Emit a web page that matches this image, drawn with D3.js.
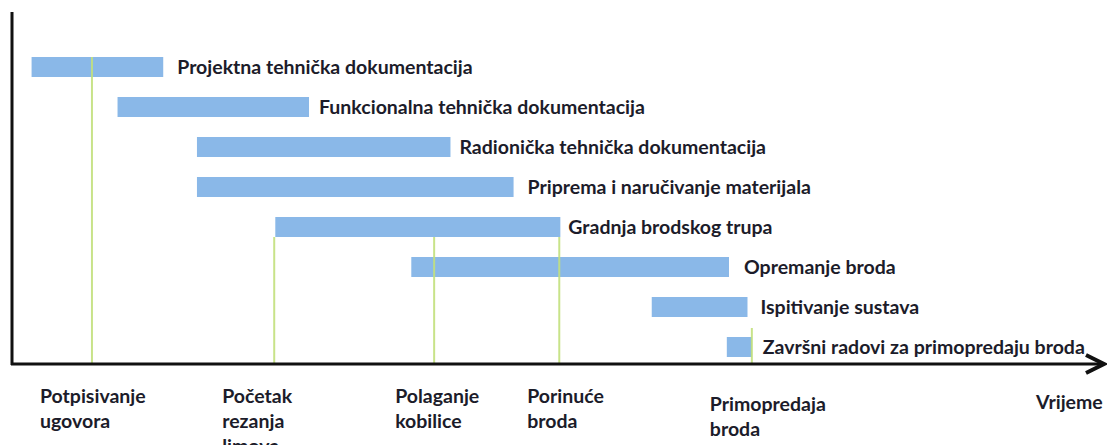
<!DOCTYPE html>
<html>
<head>
<meta charset="utf-8">
<script src="https://cdn.jsdelivr.net/npm/d3@7"></script>
<style>
  body { margin: 0; background: #fff; }
  svg text { font-family: Lato, "Open Sans", sans-serif; font-weight: bold; fill: #1c1c2a; }
</style>
</head>
<body>
<div id="chart"></div>
<script>
// activities (rows, top to bottom) with start / end in time units
const tasks = [
    'Projektna tehnička dokumentacija',
    'Funkcionalna tehnička dokumentacija',
    'Radionička tehnička dokumentacija',
    'Priprema i naručivanje materijala',
    'Gradnja brodskog trupa',
    'Opremanje broda',
    'Ispitivanje sustava',
    'Završni radovi za primopredaju broda'
];
const taskStart = [1.8, 9.7, 17.0, 17.0, 24.2, 36.7, 58.8, 65.7];
const taskEnd   = [13.9, 27.3, 40.3, 46.1, 50.4, 65.9, 67.6, 68.0];

// milestones on the time axis
const milestones = [
    ['Potpisivanje', 'ugovora'],
    ['Početak', 'rezanja', 'limova'],
    ['Polaganje', 'kobilice'],
    ['Porinuće', 'broda'],
    ['Primopredaja', 'broda']
];
const milestoneTime = [7.35, 24.1, 38.8, 50.3, 68.0];
const axisLabel = 'Vrijeme';

const width = 1107, height = 445;
const origin = {x: 12, y: 364};
const fontSize = '19.5px';

const svg = d3.select('#chart').append('svg')
    .attr('width', width).attr('height', height);

const x = d3.scaleLinear().domain([0, 100]).range([origin.x, 1100]);
const y = d3.scaleBand().domain(tasks).range([47, 367]).paddingInner(0.5).paddingOuter(0.25);

// where each milestone line begins (top), taken from the bars it hangs under
const lineTop = [
    y(tasks[0]),
    y(tasks[4]) + y.bandwidth(),
    y(tasks[4]) + y.bandwidth(),
    y(tasks[4]) + y.bandwidth(),
    y(tasks[7]) - 9
];
// label offsets relative to the milestone line
const labelDx = [-52, -52, -39, -32, -42];
const labelTop = [396, 396, 396, 396, 404];
const taskLabelGap = [14, 10, 9, 14, 8, 15, 13, 11];

//bars
svg.append('g')
    .attr('class', 'bars')
    .selectAll('rect')
    .data(tasks)
    .join('rect')
    .attr('x', (d, i) => x(taskStart[i]))
    .attr('y', d => y(d))
    .attr('width', (d, i) => x(taskEnd[i]) - x(taskStart[i]))
    .attr('height', y.bandwidth())
    .attr('fill', '#8ab8e8');

//milestone lines drawn over bars
svg.append('g')
    .attr('class', 'milestones')
    .selectAll('line')
    .data(milestoneTime)
    .join('line')
    .attr('x1', d => x(d)).attr('x2', d => x(d))
    .attr('y1', (d, i) => lineTop[i])
    .attr('y2', origin.y)
    .attr('stroke', '#c2e07c')
    .attr('stroke-opacity', 0.9)
    .attr('stroke-width', 2);

svg.append('g')
    .attr('class', 'task-labels')
    .selectAll('text')
    .data(tasks)
    .join('text')
    .attr('x', (d, i) => x(taskEnd[i]) + taskLabelGap[i])
    .attr('y', d => y(d) + y.bandwidth() / 2)
    .attr('dy', '0.35em')
    .style('font-size', fontSize)
    .text(d => d);

// axes
svg.append('line')
    .attr('x1', origin.x).attr('x2', origin.x)
    .attr('y1', 12).attr('y2', origin.y + 1)
    .attr('stroke', '#111').attr('stroke-width', 3);

svg.append('line')
    .attr('x1', origin.x - 1).attr('x2', 1103)
    .attr('y1', origin.y).attr('y2', origin.y)
    .attr('stroke', '#111').attr('stroke-width', 3);

svg.append('path')
    .attr('d', `M1086,${origin.y - 9}L1104,${origin.y}L1086,${origin.y + 9}`)
    .attr('fill', 'none')
    .attr('stroke', '#111')
    .attr('stroke-width', 4);

// milestone labels
const ml = svg.append('g').attr('class', 'milestone-labels')
    .selectAll('text')
    .data(milestones)
    .join('text')
    .attr('x', (d, i) => x(milestoneTime[i]) + labelDx[i])
    .attr('y', (d, i) => labelTop[i])
    .style('font-size', fontSize);

ml.selectAll('tspan')
    .data(d => d)
    .join('tspan')
    .attr('x', function(){ return d3.select(this.parentNode).attr('x'); })
    .attr('dy', (d, i) => i == 0 ? '0.35em' : '25px')
    .text(d => d);

svg.append('text')
    .attr('x', 1036)
    .attr('y', 402)
    .attr('dy', '0.35em')
    .style('font-size', fontSize)
    .text(axisLabel);
</script>
</body>
</html>
